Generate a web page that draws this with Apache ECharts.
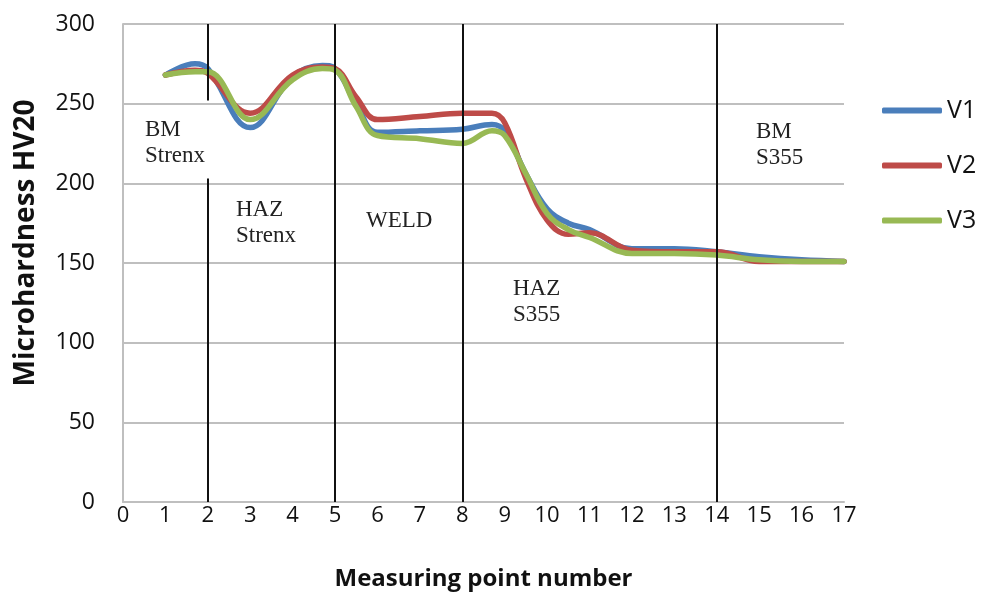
<!DOCTYPE html>
<html><head><meta charset="utf-8">
<script src="https://cdn.jsdelivr.net/npm/echarts@6/dist/echarts.min.js"></script>
<style>html,body{margin:0;padding:0;background:#fff}#c{width:987px;height:601px}</style>
</head><body><div id="c"></div>
<script>
const xs = [1, 1.7, 2, 3, 4, 4.7, 5, 5.5, 6, 7, 8, 8.7, 9, 9.5, 10, 10.5, 11, 12, 13, 14, 15, 16, 17];
const v1 = [268, 275, 272, 235, 267, 274, 272, 250, 232, 233, 234, 237, 233, 206, 184, 175, 171, 159, 159, 157, 154, 152, 151];
const v2 = [268, 271, 269, 244, 268, 273, 272, 254, 240, 242, 244, 244, 238, 203, 177, 168, 169, 158, 157, 157, 151, 151, 151];
const v3 = [268, 270, 270, 240, 265, 272, 271, 248, 230, 228, 225, 233, 230, 206, 181, 171, 166, 156, 156, 155, 152, 151, 151];
const seriesNames = ['V1', 'V2', 'V3'];
const zoneBounds = [2, 5, 8, 14];
const zoneLabels = ['BM\nStrenx', 'HAZ\nStrenx', 'WELD', 'HAZ\nS355', 'BM\nS355'];
const xTicks = [0, 17, 1];
const yTicks = [0, 300, 50];
const yTitle = 'Microhardness HV20';
const xTitle = 'Measuring point number';

const colors = ['#4a7ebb', '#be4b48', '#98b954'];
const pair = (vals) => xs.map((x, i) => [x, vals[i]]);
const font = '"Open Sans", sans-serif';
const serif = '"Liberation Serif", "Times New Roman", serif';

const chart = echarts.init(document.getElementById('c'));
const vLines = zoneBounds.map(b => b === 2
  ? [[{coord: [b, 300]}, {coord: [b, 252]}], [{coord: [b, 203]}, {coord: [b, 0]}]]
  : [[{coord: [b, 300]}, {coord: [b, 0]}]]).flat();

chart.setOption({
  animation: false,
  grid: {left: 123, top: 24, right: 143, bottom: 99, containLabel: false, outerBoundsMode: 'none'},
  xAxis: {
    type: 'value', min: xTicks[0], max: xTicks[1], interval: xTicks[2],
    axisLine: {lineStyle: {color: '#bfbfbf', width: 2}},
    axisTick: {show: false}, splitLine: {show: false},
    axisLabel: {color: '#111', fontSize: 22, fontFamily: font, margin: 3},
    name: xTitle, nameLocation: 'middle', nameGap: 65,
    nameTextStyle: {color: '#111', fontSize: 24, fontWeight: 'bold', fontFamily: font}
  },
  yAxis: {
    type: 'value', min: yTicks[0], max: yTicks[1], interval: yTicks[2],
    axisLine: {show: true, lineStyle: {color: '#bfbfbf', width: 2}},
    axisTick: {show: false},
    splitLine: {lineStyle: {color: '#bfbfbf', width: 2}},
    axisLabel: {color: '#111', fontSize: 23, fontFamily: font, margin: 28}
  },
  legend: {
    data: seriesNames, orient: 'vertical', left: 877, top: 93,
    itemWidth: 60, itemHeight: 6, itemGap: 30, icon: 'roundRect',
    textStyle: {color: '#111', fontSize: 25, fontFamily: font, lineHeight: 24, padding: [0, 0, 0, 0]}
  },
  series: [
    {
      name: 'zones', type: 'line', data: [], silent: true,
      markLine: {symbol: 'none', silent: true, label: {show: false},
        lineStyle: {color: '#111', width: 2, type: 'solid'}, data: vLines}
    },
    ...[v1, v2, v3].map((vals, i) => ({
      name: seriesNames[i], type: 'line', data: pair(vals), smooth: 0.4,
      showSymbol: false, symbol: 'none', color: colors[i],
      lineStyle: {width: 5.5, color: colors[i], cap: 'round', join: 'round'}
    }))
  ],
  graphic: [
    {type: 'text', x: 26, y: 243, rotation: Math.PI / 2,
      style: {text: yTitle, fill: '#111', font: 'bold 28px ' + font, align: 'center', verticalAlign: 'middle'}},
    ...[
      {pos: [145, 117], t: zoneLabels[0]},
      {pos: [236, 197], t: zoneLabels[1]},
      {pos: [366, 208], t: zoneLabels[2]},
      {pos: [513, 276], t: zoneLabels[3]},
      {pos: [756, 119], t: zoneLabels[4]}
    ].map(g => ({type: 'text', left: g.pos[0], top: g.pos[1],
      style: {text: g.t, fill: '#222', font: '23px ' + serif, lineHeight: 26}}))
  ]
});
</script></body></html>
